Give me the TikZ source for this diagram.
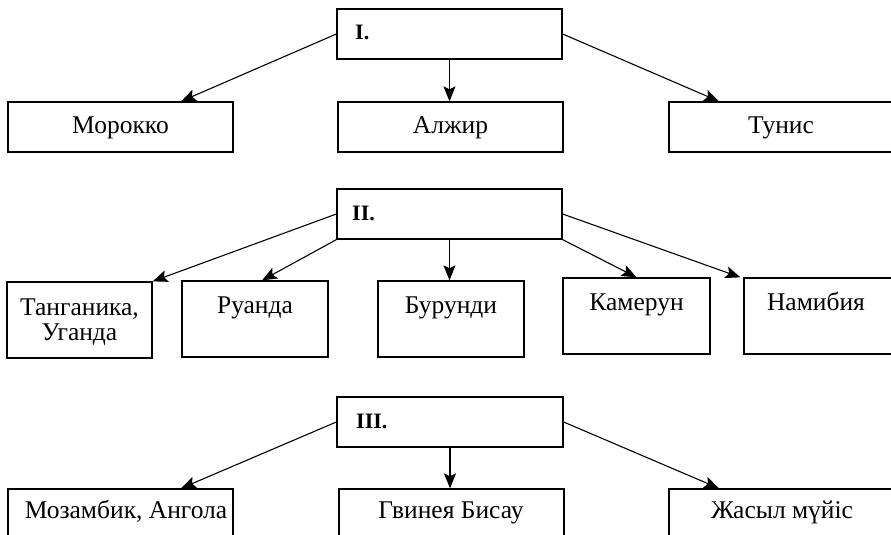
\documentclass[tikz,border=0pt]{standalone}
\usepackage{fontspec}
\setmainfont{Liberation Serif}
\usetikzlibrary{arrows.meta,calc}
\begin{document}
\begin{tikzpicture}[x=1pt,y=-1pt,
  box/.style={draw=black,line width=1.3pt,rectangle,inner sep=0pt,anchor=center},
  lbl/.style={inner sep=0pt,anchor=base,font=\fontsize{25.5}{30}\selectfont,align=center},
  num/.style={inner sep=0pt,anchor=base west,font=\fontsize{22}{26}\selectfont\bfseries},
  arr/.style={line width=1.1pt,-{Stealth[length=15pt,width=12pt,inset=3pt]}}]
\useasboundingbox (0,0) rectangle (891,535);
\clip (0,0) rectangle (891,535);
% --- group I
\node[box,minimum width=225pt,minimum height=50pt] (I) at (449.5,34) {};
\node[box,minimum width=225pt,minimum height=50pt] (M) at (120.5,127) {};
\node[box,minimum width=225pt,minimum height=50pt] (A) at (450.5,127) {};
\node[box,minimum width=225pt,minimum height=50pt] (T) at (781.5,127) {};
\node[num] (tI) at (355,40) {I.};
\node[lbl] (tM) at (120.5,133) {Морокко};
\node[lbl] (tA) at (450.5,133) {Алжир};
\node[lbl] (tT) at (781,133) {Тунис};
\draw[arr] (I.west) -- ($(M.north)+(60.5,0)$);
\draw[arr] (I.south) -- (I.south |- A.north);
\draw[arr] (I.east) -- ($(T.north)+(-62.5,0)$);
% --- group II
\node[box,minimum width=225pt,minimum height=50pt] (II) at (449.5,214) {};
\node[box,minimum width=145pt,minimum height=76pt] (Tg) at (79.5,320) {};
\node[box,minimum width=146pt,minimum height=76pt] (R) at (255,319) {};
\node[box,minimum width=146pt,minimum height=76pt] (B) at (451,319) {};
\node[box,minimum width=147pt,minimum height=76pt] (K) at (636.5,316) {};
\node[box,minimum width=149pt,minimum height=76pt] (N) at (818.5,316) {};
\node[num] (tII) at (352,220) {II.};
\node[lbl] (tTg1) at (79.5,315) {Танганика,};
\node[lbl] (tTg2) at (79.5,340) {Уганда};
\node[lbl] (tR) at (255,313) {Руанда};
\node[lbl] (tB) at (451,313) {Бурунди};
\node[lbl] (tK) at (636.5,310) {Камерун};
\node[lbl] (tN) at (816,310) {Намибия};
\draw[arr] (II.west) -- (Tg.north east);
\draw[arr] (II.south west) -- ($(R.north)+(7,0)$);
\draw[arr] (II.south) -- (II.south |- B.north);
\draw[arr] (II.south east) -- (K.north);
\draw[arr] (II.east) -- ($(N.north west)+(-3,0)$);
% --- group III
\node[box,minimum width=226pt,minimum height=50pt] (III) at (450,422) {};
\node[box,minimum width=225pt,minimum height=72pt] (Mz) at (120.5,525) {};
\node[box,minimum width=225pt,minimum height=72pt] (G) at (451.5,525) {};
\node[box,minimum width=225pt,minimum height=72pt] (Zh) at (781.5,525) {};
\node[num] (tIII) at (356,428) {III.};
\node[lbl] (tMz) at (126,518) {Мозамбик, Ангола};
\node[lbl] (tG) at (451,518) {Гвинея Бисау};
\node[lbl] (tZh) at (782,518) {Жасыл мүйіс};
\draw[arr] (III.west) -- ($(Mz.north)+(60.5,0)$);
\draw[arr] (III.south) -- (III.south |- G.north);
\draw[arr] (III.east) -- ($(Zh.north)+(-62.5,0)$);
\end{tikzpicture}
\end{document}
